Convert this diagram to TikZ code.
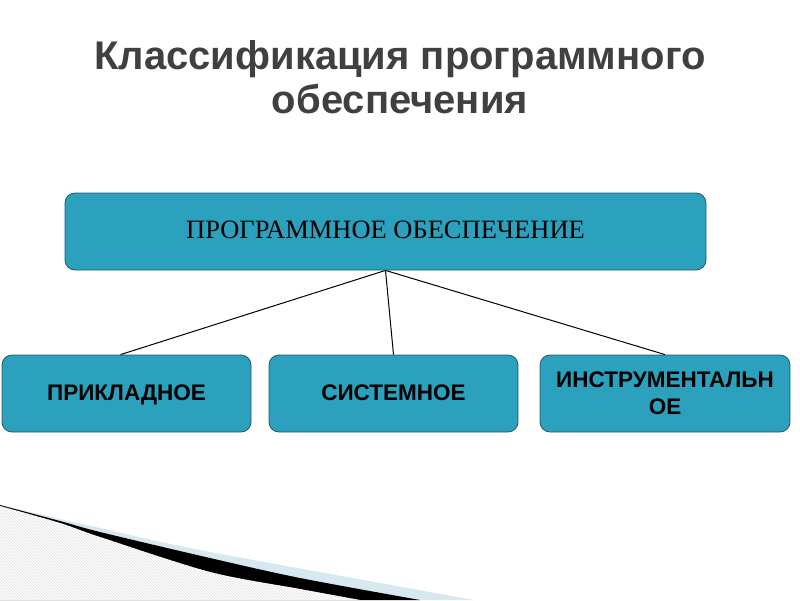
\documentclass[tikz,border=0pt]{standalone}
\usepackage{fontspec}
\setmainfont{Liberation Serif}
\setsansfont{Liberation Sans}
\usetikzlibrary{patterns}
\definecolor{boxfill}{RGB}{44,161,190}
\definecolor{boxline}{RGB}{35,90,105}
\definecolor{titlegray}{RGB}{64,64,64}
\definecolor{swooshblue}{RGB}{215,233,240}
\tikzset{
  topbox/.style={draw=boxline, line width=0.8pt, fill=boxfill, rounded corners=10pt,
    minimum width=641pt, minimum height=77pt, inner sep=0pt,
    text height=13pt, text depth=-8pt,
    font=\fontsize{26.5}{30}\selectfont},
  subbox/.style={draw=boxline, line width=0.8pt, fill=boxfill, rounded corners=10pt,
    minimum width=249pt, minimum height=77pt, inner sep=0pt, align=center,
    font=\sffamily\bfseries\fontsize{22.5}{27}\selectfont},
  onerow/.style={text height=13pt, text depth=-8pt},
  link/.style={draw=black, line width=1pt}
}
\begin{document}
\begin{tikzpicture}[x=1pt,y=-1pt]
\useasboundingbox (0,0) rectangle (800,600);
% decoration bottom-left
\fill[swooshblue] plot[smooth] coordinates {(0,505) (60,519) (100,528) (200,550) (430,592) (474,600)} -- (0,600) -- cycle;
\fill[black] plot[smooth] coordinates {(0,505) (60,521) (100,532) (210,558) (300,578) (420,600)} -- (0,600) -- cycle;
\fill[white] plot[smooth] coordinates {(0,506) (60,523) (100,537) (210,572) (300,589) (360,600)} -- (0,600) -- cycle;
\fill[pattern=north west lines, pattern color=black!12] plot[smooth] coordinates {(0,506) (60,523) (100,537) (210,572) (300,589) (360,600)} -- (0,600) -- cycle;
% title
\node[text=titlegray, align=center, font=\sffamily\bfseries\fontsize{40}{44}\selectfont] (title) at (400,77.5) {Классификация программного\\обеспечения};
% boxes
\node[topbox] (top) at (385.5,231.5) {ПРОГРАММНОЕ ОБЕСПЕЧЕНИЕ};
\node[subbox, onerow] (b1) at (126.5,393.5) {ПРИКЛАДНОЕ};
\node[subbox, onerow] (b2) at (393.5,393.5) {СИСТЕМНОЕ};
\node[subbox, minimum width=250pt] (b3) at (665,393.5) {ИНСТРУМЕНТАЛЬН\\ОЕ};
% connectors
\draw[link] (top.south) -- ([xshift=-6pt]b1.north);
\draw[link] (top.south) -- (b2.north);
\draw[link] (top.south) -- (b3.north);
\end{tikzpicture}
\end{document}
